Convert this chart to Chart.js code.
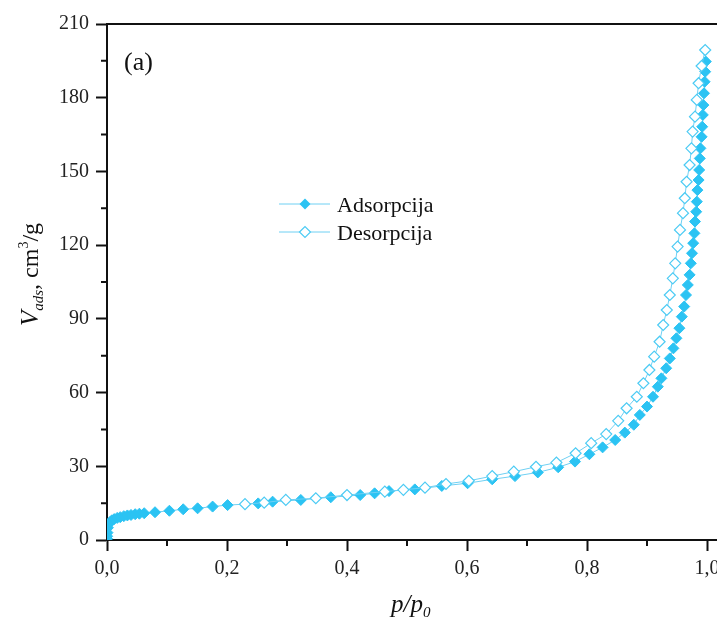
<!DOCTYPE html>
<html>
<head>
<meta charset="utf-8">
<script src="https://cdn.jsdelivr.net/npm/chart.js@4.4.0/dist/chart.umd.min.js"></script>
<style>
  html, body { margin: 0; padding: 0; overflow: hidden; background: #fff; }
  #wrap { width: 760px; height: 622px; }
</style>
</head>
<body>
<div id="wrap"><canvas id="grafico" width="760" height="622"></canvas></div>
<script>
// adsorpcija (p/p0, V ads)
var pAds = [0.0001, 0.0003, 0.0008, 0.0015, 0.003, 0.005, 0.008, 0.012, 0.017, 0.022,
    0.028, 0.034, 0.04, 0.047, 0.054, 0.062, 0.08, 0.104, 0.127, 0.151,
    0.176, 0.201, 0.252, 0.276, 0.323, 0.373, 0.422, 0.446, 0.47, 0.513,
    0.558, 0.601, 0.642, 0.68, 0.718, 0.752, 0.78, 0.804, 0.826, 0.847,
    0.863, 0.878, 0.888, 0.9, 0.91, 0.918, 0.924, 0.932, 0.938, 0.944,
    0.949, 0.954, 0.958, 0.962, 0.965, 0.968, 0.971, 0.973, 0.975, 0.977,
    0.979, 0.98, 0.982, 0.983, 0.984, 0.986, 0.987, 0.988, 0.989, 0.991,
    0.992, 0.993, 0.994, 0.995, 0.996, 0.997, 0.998];
var vAds = [0.5, 1.5, 3, 5, 6.5, 7.3, 8, 8.5, 9, 9.3,
    9.7, 10, 10.2, 10.5, 10.7, 10.9, 11.3, 11.9, 12.5, 12.9,
    13.6, 14.2, 14.9, 15.6, 16.3, 17.4, 18.3, 19.0, 19.9, 20.6,
    22.0, 23.1, 24.7, 26.0, 27.5, 29.6, 31.9, 34.9, 37.7, 40.7,
    43.7, 46.9, 50.9, 54.3, 58.3, 62.4, 65.8, 69.9, 73.9, 78,
    82.1, 86.2, 90.9, 95, 99.7, 103.8, 107.9, 112.6, 116.7, 120.8,
    124.8, 129.6, 133.6, 137.7, 142.4, 146.5, 150.6, 155.3, 159.4, 164.1,
    168.2, 173, 177, 181.8, 186.5, 190.6, 194.7];

// desorpcija
var pDes = [0.23, 0.262, 0.298, 0.348, 0.4, 0.463, 0.494, 0.53, 0.565, 0.603,
    0.642, 0.678, 0.715, 0.749, 0.781, 0.807, 0.832, 0.852, 0.866, 0.883,
    0.894, 0.904, 0.912, 0.921, 0.927, 0.933, 0.938, 0.943, 0.947, 0.951,
    0.955, 0.96, 0.963, 0.966, 0.971, 0.974, 0.976, 0.98, 0.983, 0.986,
    0.991, 0.997];
var vDes = [14.6, 15.2, 16.3, 17.0, 18.3, 19.7, 20.4, 21.3, 22.8, 24.1,
    26.0, 27.8, 29.8, 31.5, 35.3, 39.4, 43.1, 48.5, 53.6, 58.3,
    63.8, 69.2, 74.6, 80.7, 87.5, 93.6, 99.7, 106.5, 112.6, 119.4,
    126.2, 133, 139.1, 145.8, 152.6, 159.4, 166.2, 172.3, 179.1, 185.9,
    192.9, 199.4];

var xTicks = [0, 0.2, 0.4, 0.6, 0.8, 1.0];
var xMinor = [0.1, 0.3, 0.5, 0.7, 0.9];
var yTicks = [0, 30, 60, 90, 120, 150, 180, 210];
var yMinor = [15, 45, 75, 105, 135, 165, 195];
var nomes = ['Adsorpcija', 'Desorpcija'];

var corCheia = '#2bc3f3';
var corVazia = '#4ccbf4';
var corLinha = '#6fd0f3';
var serif = "'Liberation Serif', 'Times New Roman', serif";

function pares(xs, ys) {
    var ret = [];
    for (var i = 0; i < xs.length; i++) {
        ret.push({ x: xs[i], y: ys[i] });
    }
    return ret;
}

function virgula(v) {
    return v.toFixed(1).replace('.', ',');
}

function losango(ctx, x, y, r, cheio) {
    ctx.beginPath();
    ctx.moveTo(x - r, y);
    ctx.lineTo(x, y - r);
    ctx.lineTo(x + r, y);
    ctx.lineTo(x, y + r);
    ctx.closePath();
    if (cheio) {
        ctx.fillStyle = corCheia;
        ctx.fill();
    } else {
        ctx.fillStyle = '#fff';
        ctx.fill();
        ctx.strokeStyle = corVazia;
        ctx.lineWidth = 1.2;
        ctx.stroke();
    }
}

// texto com partes (fonte, deslocamento vertical)
function partes(ctx, lista, x, y) {
    for (var i = 0; i < lista.length; i++) {
        ctx.font = lista[i][1];
        ctx.fillText(lista[i][0], x, y + lista[i][2]);
        x += ctx.measureText(lista[i][0]).width;
    }
}

var extras = {
    id: 'extras',
    afterDraw: function(chart) {
        var ctx = chart.ctx;
        var a = chart.chartArea;
        var sx = chart.scales.x, sy = chart.scales.y;
        ctx.save();
        ctx.strokeStyle = '#111';
        ctx.lineWidth = 2;
        // linha de cima
        ctx.beginPath();
        ctx.moveTo(a.left, a.top);
        ctx.lineTo(a.right, a.top);
        ctx.stroke();
        // ticks menores
        ctx.beginPath();
        xMinor.forEach(function(v) {
            var px = sx.getPixelForValue(v);
            ctx.moveTo(px, a.bottom);
            ctx.lineTo(px, a.bottom + 6);
        });
        yMinor.forEach(function(v) {
            var py = sy.getPixelForValue(v);
            ctx.moveTo(a.left - 6, py);
            ctx.lineTo(a.left, py);
        });
        ctx.stroke();

        ctx.fillStyle = '#111';
        ctx.textBaseline = 'alphabetic';
        ctx.textAlign = 'left';
        // (a)
        ctx.font = '26px ' + serif;
        ctx.fillText('(a)', 124, 70);

        // legenda
        for (var i = 0; i < 2; i++) {
            var ly = 204 + i * 28;
            ctx.strokeStyle = corLinha;
            ctx.lineWidth = 1;
            ctx.beginPath();
            ctx.moveTo(279, ly);
            ctx.lineTo(330, ly);
            ctx.stroke();
            losango(ctx, 305, ly, 5.5, i == 0);
            ctx.fillStyle = '#111';
            ctx.font = '22px ' + serif;
            ctx.fillText(nomes[i], 337, ly + 8);
        }

        // titulo eixo x
        partes(ctx, [
            ['p/p', 'italic 25px ' + serif, 0],
            ['0', 'italic 15px ' + serif, 5]
        ], 391, 612);

        // titulo eixo y
        ctx.translate(38, 326);
        ctx.rotate(-Math.PI / 2);
        partes(ctx, [
            ['V', 'italic 25px ' + serif, 0],
            ['ads', 'italic 15px ' + serif, 5],
            [', cm', '24px ' + serif, 0],
            ['3', '14px ' + serif, -10],
            ['/g', '24px ' + serif, 0]
        ], 0, 0);
        ctx.restore();
    }
};

new Chart(document.getElementById('grafico').getContext('2d'), {
    type: 'line',
    data: {
        datasets: [{
            label: nomes[0],
            data: pares(pAds, vAds),
            order: 2,
            borderColor: corLinha,
            borderWidth: 1,
            pointStyle: 'rectRot',
            pointRadius: 5.5,
            pointBackgroundColor: corCheia,
            pointBorderColor: corCheia,
            pointBorderWidth: 1
        }, {
            label: nomes[1],
            data: pares(pDes, vDes),
            order: 1,
            borderColor: corLinha,
            borderWidth: 1,
            pointStyle: 'rectRot',
            pointRadius: 5.5,
            pointBackgroundColor: '#fff',
            pointBorderColor: corVazia,
            pointBorderWidth: 1.2
        }]
    },
    options: {
        responsive: false,
        animation: false,
        layout: { padding: { top: 24, right: 23, left: 0, bottom: 0 } },
        plugins: {
            legend: { display: false },
            tooltip: { enabled: false }
        },
        scales: {
            x: {
                type: 'linear',
                min: 0,
                max: 1.05,
                afterFit: function(s) { s.height = 82; },
                afterBuildTicks: function(s) {
                    s.ticks = xTicks.map(function(v) { return { value: v }; });
                },
                border: { display: true, color: '#111', width: 2 },
                grid: { drawOnChartArea: false, drawTicks: true, tickLength: 11, tickWidth: 2, tickColor: '#111' },
                ticks: {
                    padding: 6,
                    color: '#222',
                    font: { family: serif, size: 20 },
                    maxRotation: 0,
                    callback: function(v) { return virgula(v); }
                }
            },
            y: {
                min: 0,
                max: 210,
                afterFit: function(s) { s.width = 107; },
                afterBuildTicks: function(s) {
                    s.ticks = yTicks.map(function(v) { return { value: v }; });
                },
                border: { display: true, color: '#111', width: 2 },
                grid: { drawOnChartArea: false, drawTicks: true, tickLength: 11, tickWidth: 2, tickColor: '#111' },
                ticks: {
                    padding: 7,
                    color: '#222',
                    font: { family: serif, size: 20 }
                }
            }
        }
    },
    plugins: [extras]
});
</script>
</body>
</html>
